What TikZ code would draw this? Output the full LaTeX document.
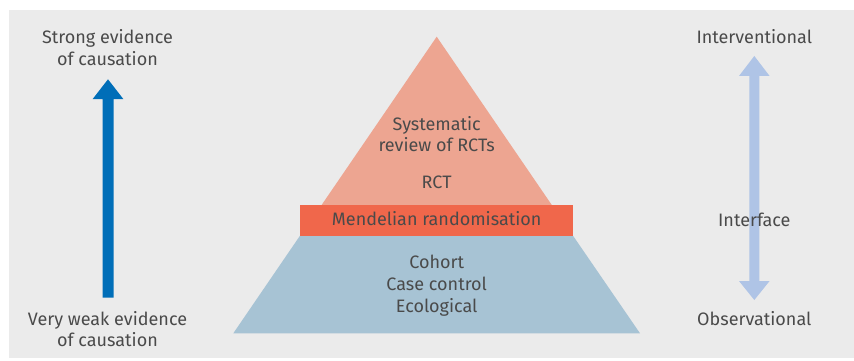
\documentclass[tikz,border=0pt]{standalone}
\usepackage{fontspec}
\setmainfont{Fira Sans}
\definecolor{bggray}{HTML}{EBEBEB}
\definecolor{pinktop}{HTML}{EDA591}
\definecolor{mrred}{HTML}{F0674B}
\definecolor{obsblue}{HTML}{A7C3D4}
\definecolor{darkarrow}{HTML}{006EB8}
\definecolor{lightarrow}{HTML}{AFC4E6}
\definecolor{txt}{HTML}{4A4A4A}
\begin{document}
\begin{tikzpicture}[x=1pt,y=-1pt,
  lbl/.style={text=txt,font=\fontsize{18}{21.7}\selectfont,align=center,inner sep=0pt,anchor=base}]
\useasboundingbox (0,0) rectangle (854,361);
\fill[bggray] (9,10) rectangle (854,358);
% pyramid
\fill[obsblue] (300,235.7) -- (573,235.7) -- (640,333.3) -- (233.3,333.3) -- cycle;
\fill[pinktop] (436.7,36.7) -- (551.8,205) -- (321.6,205) -- cycle;
\fill[mrred] (300,205) rectangle (572.7,235.7);
% left arrow
\fill[darkarrow] (102.5,297.7) -- (113.5,297.7) -- (113.5,99) -- (123.3,99) -- (108,79.3) -- (92.7,99) -- (102.5,99) -- cycle;
% right arrow
\fill[lightarrow] (754.3,56) -- (769.6,76) -- (759.3,76) -- (759.3,281) -- (769.6,281) -- (754.3,300) -- (739,281) -- (749.3,281) -- (749.3,76) -- (739,76) -- cycle;
% texts (base anchor = baseline of last line)
\node[lbl] (strong) at (107.5,65.7) {Strong evidence\\of causation};
\node[lbl] (weak) at (107.5,346.7) {Very weak evidence\\of causation};
\node[lbl] (srev) at (436.7,151.7) {Systematic\\review of RCTs};
\node[lbl] (rct) at (436.7,188.3) {RCT};
\node[lbl] (mr) at (436.7,225.7) {Mendelian randomisation};
\node[lbl] (obs) at (436.7,312.3) {Cohort\\Case control\\Ecological};
\node[lbl] (interv) at (754.3,43.3) {Interventional};
\node[lbl] (interf) at (754.3,226) {Interface};
\node[lbl] (observ) at (754.3,325) {Observational};
\end{tikzpicture}
\end{document}
